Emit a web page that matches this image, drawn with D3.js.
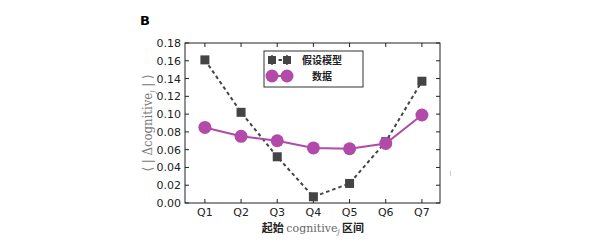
<!DOCTYPE html>
<html>
<head>
<meta charset="utf-8">
<script src="https://cdn.jsdelivr.net/npm/d3@7"></script>
<style>
  body { margin: 0; background: #fff; }
  svg { display: block; }
</style>
</head>
<body>
<div id="chart"></div>
<script>
const categories = ["Q1", "Q2", "Q3", "Q4", "Q5", "Q6", "Q7"];
const modelValues = [0.161, 0.102, 0.052, 0.007, 0.022, 0.069, 0.137];
const dataValues = [0.085, 0.075, 0.070, 0.062, 0.061, 0.067, 0.099];
const yTicks = [0, 0.02, 0.04, 0.06, 0.08, 0.10, 0.12, 0.14, 0.16, 0.18];
const legendLabels = ["假设模型", "数据"];

const width = 600, height = 247;
const margin = { left: 185, right: 160, top: 43, bottom: 44 };
const gray = "#444444";
const magenta = "#b14aa8";

const svg = d3.select("#chart").append("svg")
  .attr("width", width).attr("height", height);

const x = d3.scaleLinear().domain([0.45, 7.5]).range([margin.left, width - margin.right]);
const y = d3.scaleLinear().domain([0, 0.18]).range([height - margin.bottom, margin.top]);
const xi = (d, i) => x(i + 1);

// panel label
svg.append("text").attr("x", 140).attr("y", 25)
  .attr("font-family", "DejaVu Sans, sans-serif").attr("font-weight", "bold")
  .attr("font-size", 13).text("B");

// frame
const x0 = x.range()[0], x1 = x.range()[1], y0 = y.range()[0], y1 = y.range()[1];
svg.append("rect").attr("x", x0).attr("y", y1).attr("width", x1 - x0).attr("height", y0 - y1)
  .attr("fill", "none").attr("stroke", "#222").attr("stroke-width", 1);

// ticks (inward, all four sides)
const tk = 4;
const g = svg.append("g").attr("stroke", "#222").attr("stroke-width", 1);
yTicks.forEach(t => {
  g.append("line").attr("x1", x0).attr("x2", x0 + tk).attr("y1", y(t)).attr("y2", y(t));
  g.append("line").attr("x1", x1).attr("x2", x1 - tk).attr("y1", y(t)).attr("y2", y(t));
});
categories.forEach((c, i) => {
  g.append("line").attr("x1", xi(c, i)).attr("x2", xi(c, i)).attr("y1", y0).attr("y2", y0 - tk);
  g.append("line").attr("x1", xi(c, i)).attr("x2", xi(c, i)).attr("y1", y1).attr("y2", y1 + tk);
});

// tick labels
svg.append("g").selectAll("text").data(yTicks).join("text")
  .attr("x", x0 - 4).attr("y", d => y(d)).attr("dy", "0.36em")
  .attr("text-anchor", "end").attr("font-family", "DejaVu Sans, sans-serif")
  .attr("font-size", 11).attr("fill", "#222").text(d => d.toFixed(2));
svg.append("g").selectAll("text").data(categories).join("text")
  .attr("x", xi).attr("y", y0 + 13)
  .attr("text-anchor", "middle").attr("font-family", "DejaVu Sans, sans-serif")
  .attr("font-size", 11).attr("fill", "#222").text(d => d);

// axis labels
const yl = svg.append("text")
  .attr("transform", `translate(152,${(y0 + y1) / 2}) rotate(-90)`)
  .attr("text-anchor", "middle").attr("font-family", "DejaVu Serif, serif")
  .attr("font-size", 13).attr("fill", "#777")
  .attr("textLength", 97).attr("lengthAdjust", "spacingAndGlyphs");
yl.append("tspan").text("⟨ | Δcognitive");
yl.append("tspan").attr("font-size", 8).attr("font-style", "italic").attr("dy", 3).text("j");
yl.append("tspan").attr("dy", -3).text(" | ⟩");

const xl = svg.append("text").attr("x", 313).attr("y", 232)
  .attr("text-anchor", "middle").attr("font-size", 11);
xl.append("tspan").attr("font-family", "Noto Sans CJK SC, sans-serif").attr("font-weight", "bold")
  .attr("fill", "#222").text("起始 ");
xl.append("tspan").attr("font-family", "DejaVu Serif, serif").attr("fill", "#666").text("cognitive");
xl.append("tspan").attr("font-family", "DejaVu Serif, serif").attr("fill", "#666")
  .attr("font-size", 7).attr("font-style", "italic").attr("dy", 2).text("j");
xl.append("tspan").attr("font-family", "Noto Sans CJK SC, sans-serif").attr("font-weight", "bold")
  .attr("fill", "#222").attr("dy", -2).text(" 区间");

// model line
const line = d3.line().x((d, i) => x(i + 1)).y(d => y(d));
svg.append("path").datum(modelValues).attr("d", line)
  .attr("fill", "none").attr("stroke", gray).attr("stroke-width", 2).attr("stroke-dasharray", "3.5,3");
svg.append("g").selectAll("rect").data(modelValues).join("rect")
  .attr("x", (d, i) => x(i + 1) - 4.5).attr("y", d => y(d) - 4.5)
  .attr("width", 9).attr("height", 9).attr("fill", gray);

// data line
svg.append("path").datum(dataValues).attr("d", line)
  .attr("fill", "none").attr("stroke", magenta).attr("stroke-width", 2);
svg.append("g").selectAll("circle").data(dataValues).join("circle")
  .attr("cx", (d, i) => x(i + 1)).attr("cy", d => y(d)).attr("r", 6.5).attr("fill", magenta);

// legend
const lg = svg.append("g");
lg.append("rect").attr("x", 264).attr("y", 51).attr("width", 99).attr("height", 36)
  .attr("fill", "#fff").attr("stroke", "#333").attr("stroke-width", 1);
const lx0 = 272, lx1 = 287;
lg.append("line").attr("x1", lx0).attr("x2", lx1).attr("y1", 60).attr("y2", 60)
  .attr("stroke", gray).attr("stroke-width", 2).attr("stroke-dasharray", "3.5,3");
[lx0, lx1].forEach(px => {
  lg.append("line").attr("x1", px).attr("x2", px).attr("y1", 55).attr("y2", 65)
    .attr("stroke", gray).attr("stroke-width", 1.5);
  lg.append("rect").attr("x", px - 4).attr("y", 56).attr("width", 8).attr("height", 8).attr("fill", gray);
});
lg.append("line").attr("x1", lx0).attr("x2", lx1).attr("y1", 76).attr("y2", 76)
  .attr("stroke", magenta).attr("stroke-width", 2);
[lx0, lx1].forEach(px => {
  lg.append("circle").attr("cx", px).attr("cy", 76).attr("r", 6.5).attr("fill", magenta);
});
lg.selectAll("text.lab").data(legendLabels).join("text").attr("class", "lab")
  .attr("x", 322).attr("y", (d, i) => 60 + i * 16).attr("dy", "0.36em")
  .attr("text-anchor", "middle").attr("font-family", "Noto Sans CJK SC, sans-serif")
  .attr("font-weight", "bold").attr("font-size", 10).attr("fill", "#222").text(d => d);

// small stray mark at right
svg.append("line").attr("x1", 450.5).attr("x2", 450.5).attr("y1", 171).attr("y2", 176)
  .attr("stroke", "#ccc").attr("stroke-width", 1);
</script>
</body>
</html>
